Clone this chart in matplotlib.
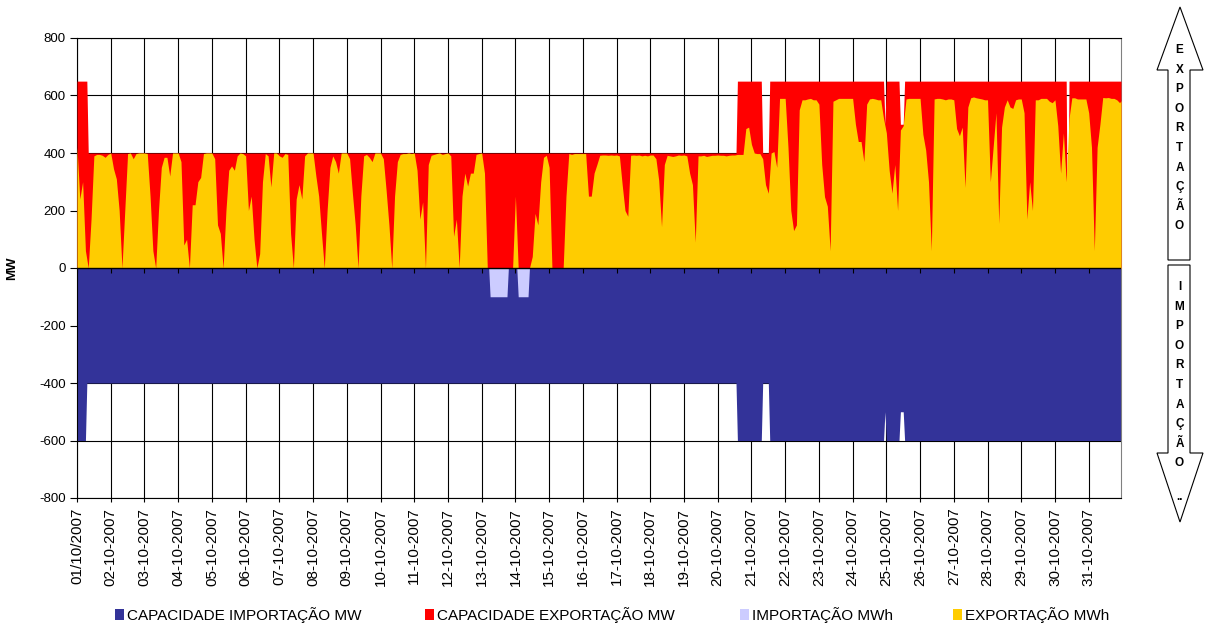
import numpy as np
import matplotlib
matplotlib.use("Agg")
import matplotlib.pyplot as plt
from matplotlib.patches import Polygon, Patch

plt.rcParams['font.family'] = ['Liberation Sans', 'DejaVu Sans']
plt.rcParams['axes.unicode_minus'] = False

# ---------------- DATA ----------------
n_hours = 744  # October 2007, hourly
day_labels = ['01/10/2007'] + ['%02d-10-2007' % d for d in range(2, 32)]

# Export capacity MW: (value, number of hours)
cap_export_runs = [(650, 8), (400, 462), (650, 18), (400, 5), (650, 82),
                   (500, 1), (650, 10), (500, 3), (650, 116), (0, 1), (650, 38)]
# Import capacity MW (negative): (value, number of hours)
cap_import_runs = [(-600, 7), (-400, 463), (-600, 18), (-400, 5), (-600, 82),
                   (-500, 1), (-600, 10), (-500, 3), (-600, 155)]
# Import MWh (negative): (value, number of hours)
import_mwh_runs = [(0, 294), (-100, 13), (0, 7), (-100, 8), (0, 422)]

# Export MWh read every 2 hours (h0, h2, ..., h22) for each day
export_mwh_by_day = [
    [420, 240, 300, 60, 0, 170, 390, 395, 395, 392, 385, 395],    # 01
    [400, 345, 310, 200, 0, 200, 398, 400, 380, 398, 400, 400],   # 02
    [400, 398, 250, 60, 0, 200, 350, 385, 385, 320, 400, 400],    # 03
    [400, 370, 80, 100, 0, 220, 220, 300, 315, 398, 400, 400],    # 04
    [400, 380, 150, 120, 0, 200, 340, 355, 340, 390, 400, 398],   # 05
    [390, 200, 250, 100, 0, 50, 300, 398, 390, 282, 400, 400],    # 06
    [390, 385, 398, 395, 120, 0, 240, 290, 240, 390, 400, 400],   # 07
    [400, 320, 250, 120, 0, 200, 350, 390, 370, 330, 400, 400],   # 08
    [400, 380, 260, 150, 0, 250, 390, 395, 385, 370, 400, 400],   # 09
    [400, 380, 270, 150, 0, 250, 370, 395, 398, 398, 400, 398],   # 10
    [400, 340, 170, 230, 0, 360, 392, 395, 398, 400, 395, 398],   # 11
    [400, 390, 110, 170, 0, 250, 330, 285, 330, 330, 395, 398],   # 12
    [400, 330, 0, 0, 0, 0, 0, 0, 0, 0, 0, 0],                     # 13
    [250, 0, 0, 0, 0, 0, 40, 190, 150, 300, 385, 392],            # 14
    [350, 0, 0, 0, 0, 0, 250, 398, 395, 398, 398, 398],           # 15
    [398, 398, 250, 250, 330, 360, 392, 393, 393, 392, 393, 392], # 16
    [393, 390, 290, 200, 180, 392, 393, 392, 393, 390, 392, 390], # 17
    [393, 393, 380, 305, 144, 360, 392, 390, 388, 390, 393, 392], # 18
    [393, 390, 330, 290, 90, 390, 390, 392, 388, 390, 392, 392],  # 19
    [393, 392, 392, 390, 392, 393, 393, 395, 395, 395, 485, 490], # 20
    [430, 400, 398, 398, 380, 290, 260, 400, 405, 350, 590, 590], # 21
    [590, 420, 200, 130, 150, 550, 585, 585, 588, 590, 585, 585], # 22
    [570, 360, 248, 215, 60, 580, 585, 590, 590, 590, 590, 590],  # 23
    [590, 500, 440, 440, 370, 570, 588, 590, 588, 585, 585, 520], # 24
    [470, 340, 260, 360, 200, 480, 495, 588, 590, 590, 590, 590], # 25
    [590, 465, 410, 300, 60, 588, 590, 590, 588, 585, 588, 588],  # 26
    [585, 485, 460, 490, 280, 560, 592, 595, 592, 590, 588, 585], # 27
    [585, 300, 420, 540, 155, 490, 560, 585, 560, 555, 585, 588], # 28
    [588, 540, 170, 300, 200, 585, 585, 590, 590, 590, 580, 575], # 29
    [585, 495, 330, 470, 300, 520, 592, 592, 588, 588, 588, 588], # 30
    [540, 420, 60, 420, 500, 593, 592, 593, 590, 590, 585, 575],  # 31
]
export_mwh_last_hour = 582
sample_step = 2

series_names = ['CAPACIDADE IMPORTAÇÃO MW', 'CAPACIDADE EXPORTAÇÃO MW',
                'IMPORTAÇÃO MWh', 'EXPORTAÇÃO MWh']
series_colors = ['#333399', '#FF0000', '#CCCCFF', '#FFCC00']

# ---------------- BUILD ----------------
def expand(runs):
    vals = np.array([v for v, n in runs], dtype=float)
    cnts = np.array([n for v, n in runs])
    return np.repeat(vals, cnts)

hours = np.arange(n_hours)
cap_exp = expand(cap_export_runs)
cap_imp = expand(cap_import_runs)
imp_mwh = expand(import_mwh_runs)
exp_vals = np.concatenate([np.ravel(export_mwh_by_day), [export_mwh_last_hour]]).astype(float)
exp_x = np.concatenate([np.arange(0, n_hours, sample_step), [n_hours - 1]])

W, H = 1207, 629
fig = plt.figure(figsize=(W / 100, H / 100), dpi=100)
L, R, T, B = 77, 1121, 38, 498
ax = fig.add_axes([L / W, 1 - B / H, (R - L) / W, (B - T) / H])

ax.fill_between(hours, 0, cap_imp, color=series_colors[0], lw=0, zorder=2)
ax.fill_between(hours, 0, cap_exp, color=series_colors[1], lw=0, zorder=3)
ax.fill_between(hours, 0, imp_mwh, color=series_colors[2], lw=0, zorder=4)
ax.fill_between(exp_x, 0, exp_vals, color=series_colors[3], lw=0, zorder=5)

ax.set_xlim(0, n_hours - 1)
ax.set_ylim(-800, 800)
day_pos = np.arange(0, n_hours, 24)
ax.set_xticks(day_pos)
ax.set_xticklabels(day_labels, rotation=90, fontsize=11)
ax.set_yticks(np.arange(-800, 801, 200))
ax.tick_params(axis='y', labelsize=9.5, length=5, width=0.8, direction='out', pad=3)
ax.tick_params(axis='x', length=3, width=0.8, direction='out', pad=4)
ax.set_axisbelow(True)
ax.grid(True, color='black', lw=0.8)
for s in ax.spines.values():
    s.set_color('black')
    s.set_linewidth(0.8)
ax.spines['right'].set_color('#808080')

# category axis at zero with tick marks
ax.axhline(0, color='black', lw=1, zorder=6)
ax.vlines(day_pos, -17, 0, color='black', lw=0.8, zorder=6)

ax.set_ylabel('MW', fontweight='bold', fontsize=9.5)
ax.yaxis.set_label_coords((18 - L) / (R - L), 0.5)

# legend entries
leg_x = [115, 425, 740, 953]
for name, col, xp in zip(series_names, series_colors, leg_x):
    fig.legend(handles=[Patch(facecolor=col, edgecolor='none')], labels=[name],
               loc='center left', bbox_to_anchor=(xp / W, 1 - 615 / H),
               frameon=False, fontsize=11, handlelength=0.6, handleheight=0.75,
               handletextpad=0.2, borderpad=0, borderaxespad=0)

# side arrows
def fpx(pts):
    return [(x / W, 1 - y / H) for x, y in pts]

up_arrow = [(1180, 7), (1203, 70), (1190, 70), (1190, 260), (1168, 260), (1168, 70), (1157, 70)]
down_arrow = [(1168, 265), (1190, 265), (1190, 453), (1203, 453), (1180, 522), (1157, 453), (1168, 453)]
for pts in (up_arrow, down_arrow):
    fig.add_artist(Polygon(fpx(pts), closed=True, facecolor='white', edgecolor='black',
                           lw=0.8, transform=fig.transFigure))

word_exp = list('EXPORTAÇÃO')
word_imp = list('IMPORTAÇÃO') + ['..']
for i, ch in enumerate(word_exp):
    y = 50 + i * 19.6
    fig.text(1179.5 / W, 1 - y / H, ch, ha='center', va='center', fontsize=8.5, fontweight='bold')
for i, ch in enumerate(word_imp):
    y = 287 + i * 19.6 if i < 10 else 497
    fig.text(1179.5 / W, 1 - y / H, ch, ha='center', va='center', fontsize=8.5, fontweight='bold')

fig.savefig('out.png', dpi=100)
